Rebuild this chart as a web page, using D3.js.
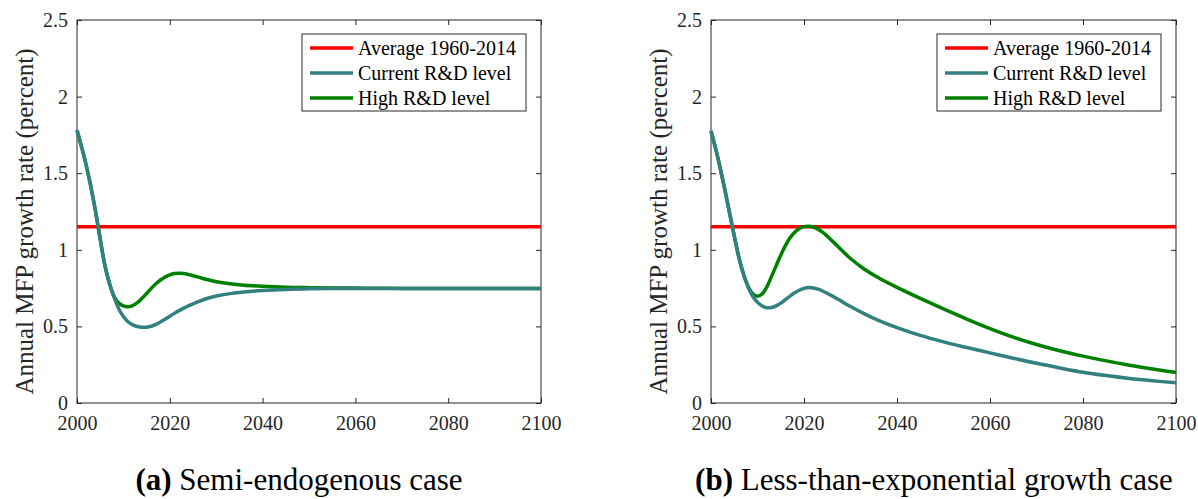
<!DOCTYPE html>
<html>
<head>
<meta charset="utf-8">
<script src="https://cdn.jsdelivr.net/npm/d3@7"></script>
<style>
  body { margin: 0; background: #fff; }
  svg { display: block; font-family: "Liberation Serif", "Times New Roman", "DejaVu Serif", serif; }
</style>
</head>
<body>
<div id="chartArea"></div>
<script>
// years sampled (dense near the start where the curves bend)
var years = [2000, 2001, 2002, 2003, 2004, 2005, 2006, 2007, 2008, 2009,
  2010, 2011, 2012, 2013, 2014, 2015, 2016, 2017, 2018, 2019,
  2020, 2021, 2022, 2023, 2024, 2026, 2028, 2030, 2033, 2036,
  2040, 2045, 2050, 2055, 2060, 2065, 2070, 2075, 2080, 2085, 2090, 2095, 2100];

// (a) semi-endogenous case
var semiCurrent = [1.78, 1.67, 1.55, 1.41, 1.25, 1.07, 0.90, 0.78, 0.69, 0.615,
  0.565, 0.530, 0.510, 0.499, 0.494, 0.495, 0.501, 0.513, 0.529, 0.547,
  0.566, 0.585, 0.603, 0.619, 0.634, 0.660, 0.682, 0.698, 0.714, 0.725,
  0.734, 0.741, 0.745, 0.747, 0.748, 0.748, 0.748, 0.748, 0.748, 0.748, 0.748, 0.748, 0.748];
var semiHigh = [1.78, 1.67, 1.55, 1.41, 1.25, 1.07, 0.90, 0.78, 0.695, 0.652,
  0.634, 0.629, 0.636, 0.655, 0.683, 0.715, 0.748, 0.778, 0.803, 0.823,
  0.837, 0.845, 0.847, 0.845, 0.839, 0.823, 0.806, 0.792, 0.778, 0.769,
  0.762, 0.756, 0.753, 0.751, 0.750, 0.749, 0.748, 0.748, 0.748, 0.748, 0.748, 0.748, 0.748];

// (b) less-than-exponential growth case
var lteCurrent = [1.775, 1.66, 1.53, 1.39, 1.24, 1.09, 0.95, 0.84, 0.755, 0.695,
  0.657, 0.633, 0.622, 0.623, 0.634, 0.652, 0.675, 0.698, 0.719, 0.736,
  0.748, 0.754, 0.751, 0.743, 0.731, 0.700, 0.665, 0.630, 0.582, 0.540,
  0.492, 0.441, 0.399, 0.362, 0.327, 0.292, 0.259, 0.229, 0.201, 0.179, 0.160, 0.145, 0.132];
var lteHigh = [1.775, 1.66, 1.53, 1.39, 1.24, 1.09, 0.95, 0.84, 0.76, 0.712,
  0.697, 0.712, 0.757, 0.825, 0.895, 0.965, 1.027, 1.078, 1.115, 1.139,
  1.151, 1.154, 1.149, 1.135, 1.115, 1.060, 1.000, 0.943, 0.873, 0.818,
  0.755, 0.683, 0.614, 0.548, 0.486, 0.430, 0.382, 0.341, 0.306, 0.275, 0.247, 0.222, 0.199];

var average = 1.15;

var xTicks = [2000, 2020, 2040, 2060, 2080, 2100];
var yTicks = [0, 0.5, 1, 1.5, 2, 2.5];
var legendLabels = ['Average 1960-2014', 'Current R&D level', 'High R&D level'];
var colors = ['#ff0000', '#338080', '#008000'];

var panels = [
  { left: 77, right: 541, tag: '(a)', caption: 'Semi-endogenous case', cx: 299, current: semiCurrent, high: semiHigh },
  { left: 711, right: 1176, tag: '(b)', caption: 'Less-than-exponential growth case', cx: 934, current: lteCurrent, high: lteHigh }
];

var plotTop = 20, plotBottom = 403;
var axisColor = '#262626';
var fontStack = '"Liberation Serif", "Times New Roman", "DejaVu Serif", serif';

var svg = d3.select('#chartArea').append('svg')
  .attr('width', 1198)
  .attr('height', 499);

panels.forEach(function (p) {
  var x = d3.scaleLinear().domain([2000, 2100]).range([p.left, p.right]);
  var y = d3.scaleLinear().domain([0, 2.5]).range([plotBottom, plotTop]);

  var g = svg.append('g');

  // axes box
  g.append('rect')
    .attr('x', p.left).attr('y', plotTop)
    .attr('width', p.right - p.left).attr('height', plotBottom - plotTop)
    .attr('fill', 'none').attr('stroke', axisColor).attr('stroke-width', 1);

  // bottom / left axes with inward ticks
  g.append('g').attr('transform', 'translate(0,' + plotBottom + ')')
    .call(d3.axisBottom(x).tickValues(xTicks).tickFormat(d3.format('d'))
      .tickSizeInner(-5).tickSizeOuter(0).tickPadding(13));
  g.append('g').attr('transform', 'translate(' + p.left + ',0)')
    .call(d3.axisLeft(y).tickValues(yTicks).tickFormat(function (d) { return String(d); })
      .tickSizeInner(-5).tickSizeOuter(0).tickPadding(9));
  // mirrored ticks on top / right
  g.append('g').attr('transform', 'translate(0,' + plotTop + ')')
    .call(d3.axisTop(x).tickValues(xTicks).tickFormat('').tickSizeInner(-5).tickSizeOuter(0));
  g.append('g').attr('transform', 'translate(' + p.right + ',0)')
    .call(d3.axisRight(y).tickValues(yTicks).tickFormat('').tickSizeInner(-5).tickSizeOuter(0));

  g.selectAll('.domain').remove();
  g.selectAll('.tick line').attr('stroke', axisColor);
  g.selectAll('.tick text')
    .attr('fill', axisColor)
    .attr('font-family', null)
    .style('font-family', fontStack)
    .style('font-size', '20px');

  // y label
  g.append('text')
    .attr('transform', 'translate(' + (p.left - 44) + ',' + ((plotTop + plotBottom) / 2 + 10) + ') rotate(-90)')
    .attr('text-anchor', 'middle')
    .attr('fill', axisColor)
    .style('font-family', fontStack)
    .style('font-size', '25px')
    .text('Annual MFP growth rate (percent)');

  var line = d3.line()
    .x(function (d, i) { return x(years[i]); })
    .y(function (d) { return y(d); })
    .curve(d3.curveCatmullRom.alpha(0.5));

  var lines = g.append('g');

  // average line
  lines.append('path')
    .datum([average, average])
    .attr('d', d3.line().x(function (d, i) { return x(i ? 2100 : 2000); }).y(function (d) { return y(d); }))
    .attr('fill', 'none').attr('stroke', colors[0]).attr('stroke-width', 3.5);

  lines.append('path')
    .datum(p.high)
    .attr('d', line)
    .attr('fill', 'none').attr('stroke', colors[2]).attr('stroke-width', 3.5);

  lines.append('path')
    .datum(p.current)
    .attr('d', line)
    .attr('fill', 'none').attr('stroke', colors[1]).attr('stroke-width', 3.5);

  // legend
  var lx = p.right - 15 - 224, ly = plotTop + 14;
  var leg = g.append('g').attr('transform', 'translate(' + lx + ',' + ly + ')');
  leg.append('rect')
    .attr('width', 224).attr('height', 77)
    .attr('fill', '#fff').attr('stroke', axisColor).attr('stroke-width', 1);
  legendLabels.forEach(function (lab, i) {
    var ry = 14 + i * 25;
    leg.append('line')
      .attr('x1', 8).attr('x2', 51).attr('y1', ry).attr('y2', ry)
      .attr('stroke', colors[i]).attr('stroke-width', 3.5);
    leg.append('text')
      .attr('x', 56).attr('y', ry).attr('dy', '0.35em')
      .attr('fill', '#000')
      .style('font-family', fontStack)
      .style('font-size', '20px')
      .text(lab);
  });

  // caption
  var cap = svg.append('text')
    .attr('x', p.cx).attr('y', 490)
    .attr('text-anchor', 'middle')
    .attr('fill', '#000')
    .style('font-family', fontStack)
    .style('font-size', '31px');
  cap.append('tspan').style('font-weight', 'bold').text(p.tag);
  cap.append('tspan').text(' ' + p.caption);
});
</script>
</body>
</html>
